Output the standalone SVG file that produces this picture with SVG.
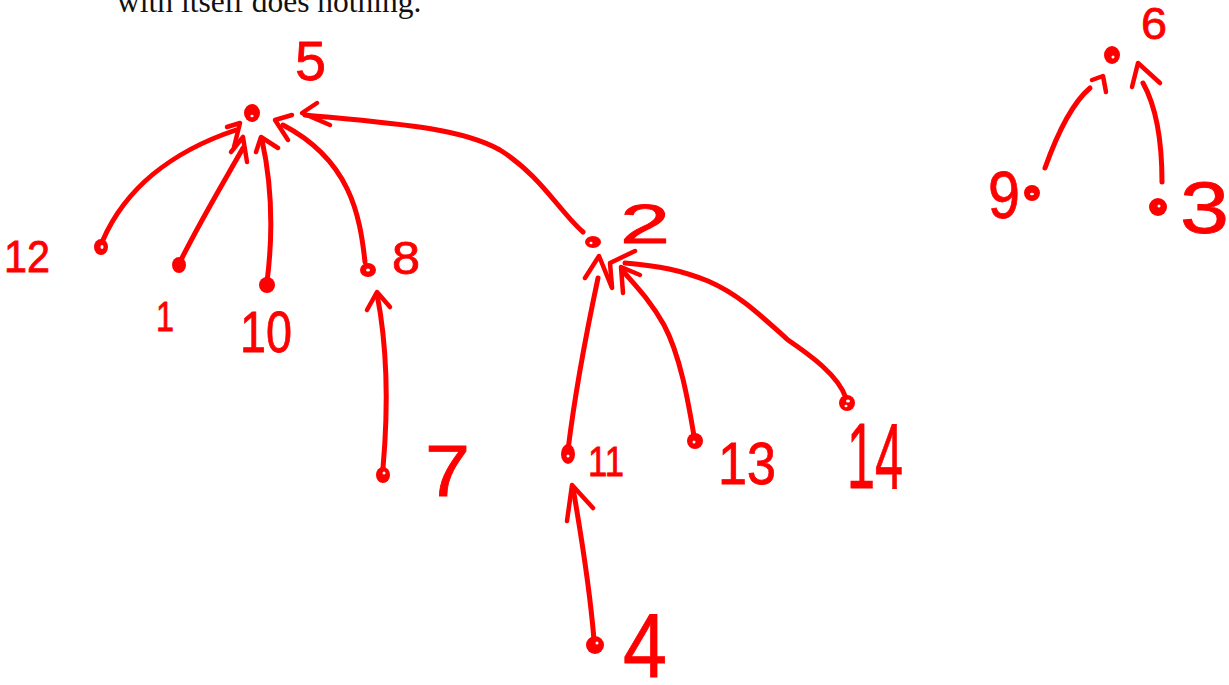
<svg xmlns="http://www.w3.org/2000/svg" width="1229" height="685" viewBox="0 0 1229 685">
  <style>
    .caption { font-family: "Liberation Serif", "Times New Roman", serif; font-size: 31.5px; fill: #111; }
    .edge { fill: none; stroke: #ff0000; stroke-width: 5; stroke-linecap: round; stroke-linejoin: round; }
    .head { fill: none; stroke: #ff0000; stroke-width: 4.5; stroke-linecap: round; stroke-linejoin: round; }
    .dot { fill: #ff0000; }
    .hole { fill: #ffffff; }
    .label { font-family: "Liberation Sans", Arial, sans-serif; fill: #ff0000; stroke: #ff0000; stroke-width: 0.8; }
  </style>
  <rect width="1229" height="685" fill="#ffffff"/>

  <!-- tail of the paragraph above the sketch -->
  <text class="caption" x="117" y="12">with itself does nothing.</text>

  <!-- parent links, each ending in an open hand-drawn head -->
  <g id="connectors">
    <!-- 12 -> 5 -->
    <path class="edge" d="M103,240 C125,190 170,152 236,130"/>
    <polyline class="head" points="227,127 240,123 234,147"/>
    <!-- 1 -> 5 -->
    <path class="edge" d="M180,262 C198,225 222,185 243,148"/>
    <polyline class="head" points="231,152 243,137 247,162"/>
    <!-- 10 -> 5 -->
    <path class="edge" d="M267,282 C273,235 273,190 262,140"/>
    <polyline class="head" points="256,152 261,137 278,148"/>
    <!-- 8 -> 5 -->
    <path class="edge" d="M365,262 C360,215 350,160 283,125"/>
    <polyline class="head" points="292,115 275,120 288,140"/>
    <!-- 2 -> 5 -->
    <path class="edge" d="M583,232 C560,212 540,175 500,150 C460,128 400,124 305,115"/>
    <polyline class="head" points="317,103 302,113 330,125"/>
    <!-- 7 -> 8 -->
    <path class="edge" d="M383,468 C389,400 386,340 377,294"/>
    <polyline class="head" points="367,310 377,292 390,307"/>
    <!-- 11 -> 2 -->
    <path class="edge" d="M568,450 C576,385 588,325 598,278"/>
    <polyline class="head" points="585,278 599,256 612,288"/>
    <!-- 13 -> 2 -->
    <path class="edge" d="M694,436 C688,400 680,355 664,325 C650,300 635,285 622,270"/>
    <polyline class="head" points="640,275 621,267 623,293"/>
    <!-- 14 -> 2 -->
    <path class="edge" d="M846,398 C838,375 810,355 788,340 C760,315 740,295 708,281 C680,270 660,266 625,263"/>
    <polyline class="head" points="635,251 610,263 612,287"/>
    <!-- 4 -> 11 -->
    <path class="edge" d="M594,640 C590,590 582,540 573,488"/>
    <polyline class="head" points="567,521 572,485 593,508"/>
    <!-- 9 -> 6 -->
    <path class="edge" d="M1045,168 C1055,140 1070,105 1090,88"/>
    <polyline class="head" points="1092,80 1103,76 1106,92"/>
    <!-- 3 -> 6 -->
    <path class="edge" d="M1162,182 C1162,145 1158,110 1143,83"/>
    <polyline class="head" points="1132,87 1138,63 1160,83"/>
  </g>

  <!-- vertices -->
  <g id="node-5">
    <ellipse class="dot" cx="252" cy="113" rx="8" ry="9"/>
    <ellipse class="hole" cx="252" cy="116" rx="1.6" ry="1.2"/>
    <text class="label" x="295" y="80" font-size="55" textLength="31" lengthAdjust="spacingAndGlyphs">5</text>
  </g>
  <g id="node-12">
    <ellipse class="dot" cx="101" cy="247" rx="7" ry="8"/>
    <ellipse class="hole" cx="102" cy="247" rx="1.5" ry="2"/>
    <text class="label" x="4" y="272" font-size="45" textLength="46" lengthAdjust="spacingAndGlyphs">12</text>
  </g>
  <g id="node-1">
    <ellipse class="dot" cx="179" cy="265" rx="7" ry="8"/>
    <text class="label" x="156" y="331" font-size="42" textLength="18" lengthAdjust="spacingAndGlyphs">1</text>
  </g>
  <g id="node-10">
    <ellipse class="dot" cx="267" cy="285" rx="8" ry="8"/>
    <text class="label" x="240" y="352" font-size="58" textLength="52" lengthAdjust="spacingAndGlyphs">10</text>
  </g>
  <g id="node-8">
    <ellipse class="dot" cx="368" cy="270" rx="8" ry="7"/>
    <ellipse class="hole" cx="368" cy="270" rx="2" ry="1.5"/>
    <text class="label" x="392" y="274" font-size="47" textLength="28" lengthAdjust="spacingAndGlyphs">8</text>
  </g>
  <g id="node-7">
    <ellipse class="dot" cx="383" cy="475" rx="7" ry="8"/>
    <ellipse class="hole" cx="384" cy="473" rx="1.5" ry="1.5"/>
    <text class="label" x="425" y="496" font-size="72" textLength="45" lengthAdjust="spacingAndGlyphs">7</text>
  </g>
  <g id="node-2">
    <ellipse class="dot" cx="593" cy="242" rx="8" ry="6"/>
    <ellipse class="hole" cx="591" cy="243" rx="1.5" ry="1.2"/>
    <text class="label" x="620" y="243" font-size="55" textLength="50" lengthAdjust="spacingAndGlyphs">2</text>
  </g>
  <g id="node-11">
    <ellipse class="dot" cx="568" cy="454" rx="7" ry="10"/>
    <ellipse class="hole" cx="568" cy="456" rx="1.5" ry="1.5"/>
    <text class="label" x="588" y="476" font-size="42" textLength="36" lengthAdjust="spacingAndGlyphs">11</text>
  </g>
  <g id="node-13">
    <ellipse class="dot" cx="695" cy="441" rx="8" ry="8"/>
    <ellipse class="hole" cx="694" cy="442" rx="1.5" ry="1.5"/>
    <text class="label" x="718" y="484" font-size="60" textLength="58" lengthAdjust="spacingAndGlyphs">13</text>
  </g>
  <g id="node-14">
    <ellipse class="dot" cx="847" cy="403" rx="8" ry="8"/>
    <ellipse class="hole" cx="848" cy="401" rx="2" ry="1.5"/>
    <ellipse class="hole" cx="846" cy="406" rx="1.5" ry="1.2"/>
    <text class="label" x="847" y="488" font-size="92" textLength="56" lengthAdjust="spacingAndGlyphs">14</text>
  </g>
  <g id="node-4">
    <ellipse class="dot" cx="595" cy="645" rx="9" ry="9"/>
    <ellipse class="hole" cx="597" cy="643" rx="1.5" ry="1.5"/>
    <text class="label" x="623" y="677" font-size="90" textLength="44" lengthAdjust="spacingAndGlyphs">4</text>
  </g>
  <g id="node-6">
    <ellipse class="dot" cx="1112" cy="55" rx="8" ry="9"/>
    <ellipse class="hole" cx="1113" cy="57" rx="1.5" ry="1.5"/>
    <text class="label" x="1141" y="39" font-size="45" textLength="26" lengthAdjust="spacingAndGlyphs">6</text>
  </g>
  <g id="node-9">
    <ellipse class="dot" cx="1032" cy="193" rx="8" ry="8"/>
    <ellipse class="hole" cx="1032" cy="194" rx="2" ry="1.2"/>
    <text class="label" x="988" y="218" font-size="66" textLength="32" lengthAdjust="spacingAndGlyphs">9</text>
  </g>
  <g id="node-3">
    <ellipse class="dot" cx="1158" cy="207" rx="9" ry="9"/>
    <ellipse class="hole" cx="1159" cy="206" rx="1.5" ry="1.5"/>
    <text class="label" x="1180" y="233" font-size="72" textLength="49" lengthAdjust="spacingAndGlyphs">3</text>
  </g>
</svg>
